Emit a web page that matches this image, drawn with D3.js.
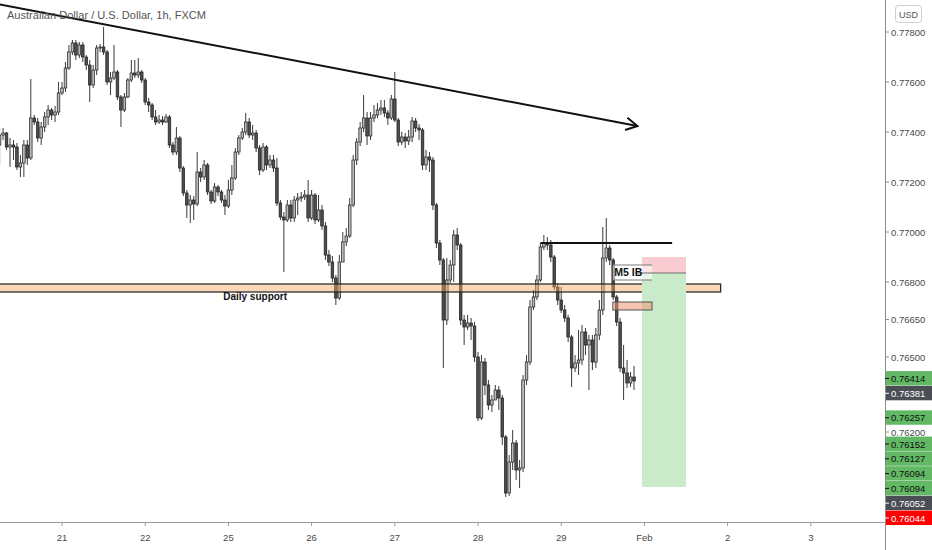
<!DOCTYPE html>
<html><head><meta charset="utf-8">
<script src="https://cdn.jsdelivr.net/npm/d3@7"></script>
<style>html,body{margin:0;padding:0;background:#fff;}svg{display:block;}</style>
</head><body>
<svg id="chart" width="932" height="550"></svg>
<script>
// ---------- DATA ----------
const title = "Australian Dollar / U.S. Dollar, 1h, FXCM";
const dayLabels = ["21","22","25","26","27","28","29","Feb","2","3"];
const dayTickHours = [0,24,48,72,96,120,144,168,192,216];
const firstHour = -18;          // first candle, in hours from the "21" day tick
const firstOpen = 0.77348;
const closes = [
0.77388,0.77396,0.77340,0.77348,0.77340,0.77260,0.77276,0.77348,0.77296,0.77456,
0.77440,0.77376,0.77420,0.77460,0.77488,0.77468,0.77480,0.77556,0.77576,0.77656,
0.77720,0.77756,0.77708,0.77748,0.77700,0.77668,0.77588,0.77648,0.77736,0.77740,
0.77720,0.77600,0.77616,0.77640,0.77540,0.77488,0.77540,0.77608,0.77636,0.77628,
0.77640,0.77608,0.77520,0.77508,0.77460,0.77440,0.77448,0.77440,0.77460,0.77348,
0.77320,0.77376,0.77256,0.77156,0.77108,0.77128,0.77112,0.77240,0.77220,0.77268,
0.77160,0.77124,0.77180,0.77160,0.77128,0.77104,0.77168,0.77216,0.77320,0.77376,
0.77400,0.77440,0.77388,0.77396,0.77336,0.77248,0.77340,0.77268,0.77288,0.77256,
0.77116,0.77060,0.77048,0.77108,0.77056,0.77128,0.77136,0.77140,0.77148,0.77056,
0.77148,0.77048,0.77088,0.77024,0.76908,0.76880,0.76816,0.76736,0.76880,0.76960,
0.76984,0.77108,0.77288,0.77360,0.77416,0.77456,0.77384,0.77456,0.77468,0.77488,
0.77496,0.77476,0.77456,0.77532,0.77448,0.77360,0.77380,0.77364,0.77380,0.77444,
0.77416,0.77408,0.77268,0.77300,0.77288,0.77108,0.76956,0.76888,0.76648,0.76808,
0.76868,0.76988,0.76948,0.76648,0.76620,0.76636,0.76624,0.76500,0.76256,0.76480,
0.76388,0.76308,0.76328,0.76368,0.76336,0.76180,0.75956,0.76080,0.76156,0.76048,
0.76056,0.76408,0.76480,0.76700,0.76740,0.76808,0.76940,0.76956,0.76948,0.76900,
0.76780,0.76728,0.76688,0.76656,0.76580,0.76456,0.76476,0.76488,0.76600,0.76548,
0.76568,0.76480,0.76588,0.76688,0.76896,0.76936,0.76888,0.76740,0.76640,0.76456,
0.76436,0.76396,0.76420,0.76404];
const highs = [
0.77416,0.77416,0.77400,0.77376,0.77368,0.77356,0.77308,0.77368,0.77368,0.77612,
0.77468,0.77456,0.77440,0.77480,0.77508,0.77496,0.77504,0.77600,0.77600,0.77680,
0.77748,0.77768,0.77768,0.77760,0.77760,0.77708,0.77688,0.77668,0.77748,0.77752,
0.77820,0.77728,0.77640,0.77748,0.77648,0.77548,0.77556,0.77616,0.77688,0.77688,
0.77696,0.77648,0.77616,0.77536,0.77516,0.77488,0.77468,0.77464,0.77472,0.77468,
0.77360,0.77420,0.77384,0.77264,0.77168,0.77148,0.77144,0.77320,0.77256,0.77288,
0.77276,0.77168,0.77196,0.77188,0.77168,0.77148,0.77208,0.77268,0.77336,0.77388,
0.77416,0.77476,0.77456,0.77428,0.77408,0.77348,0.77356,0.77348,0.77308,0.77308,
0.77296,0.77128,0.77080,0.77128,0.77128,0.77144,0.77156,0.77160,0.77168,0.77208,
0.77168,0.77156,0.77148,0.77108,0.77040,0.76928,0.76904,0.76828,0.76908,0.77000,
0.77016,0.77136,0.77308,0.77376,0.77440,0.77548,0.77480,0.77480,0.77508,0.77516,
0.77528,0.77528,0.77488,0.77548,0.77640,0.77456,0.77400,0.77396,0.77408,0.77460,
0.77456,0.77432,0.77416,0.77328,0.77320,0.77300,0.77116,0.76968,0.76896,0.76896,
0.76888,0.77008,0.77016,0.76956,0.76668,0.76668,0.76656,0.76640,0.76520,0.76508,
0.76496,0.76408,0.76348,0.76388,0.76384,0.76348,0.76188,0.76108,0.76208,0.76168,
0.76088,0.76428,0.76508,0.76728,0.76768,0.76828,0.76956,0.76988,0.76980,0.76968,
0.76908,0.76796,0.76780,0.76708,0.76668,0.76588,0.76508,0.76608,0.76628,0.76616,
0.76588,0.76588,0.76616,0.76728,0.77020,0.77056,0.76948,0.76896,0.76748,0.76656,
0.76548,0.76488,0.76440,0.76464];
const lows = [
0.77268,0.77368,0.77328,0.77260,0.77288,0.77248,0.77220,0.77220,0.77268,0.77288,
0.77428,0.77360,0.77348,0.77400,0.77428,0.77448,0.77440,0.77468,0.77548,0.77560,
0.77648,0.77708,0.77688,0.77696,0.77680,0.77648,0.77520,0.77576,0.77628,0.77720,
0.77708,0.77588,0.77548,0.77608,0.77528,0.77420,0.77480,0.77536,0.77600,0.77616,
0.77616,0.77596,0.77508,0.77480,0.77448,0.77428,0.77432,0.77428,0.77436,0.77336,
0.77308,0.77308,0.77240,0.77144,0.77056,0.77036,0.77048,0.77104,0.77200,0.77208,
0.77148,0.77112,0.77116,0.77144,0.77116,0.77068,0.77096,0.77148,0.77208,0.77308,
0.77368,0.77388,0.77376,0.77368,0.77320,0.77228,0.77240,0.77248,0.77256,0.77240,
0.77104,0.77048,0.76840,0.77040,0.77040,0.77040,0.77068,0.77120,0.77128,0.77040,
0.77048,0.77032,0.77040,0.77008,0.76888,0.76864,0.76800,0.76708,0.76728,0.76880,
0.76944,0.76976,0.77100,0.77268,0.77344,0.77400,0.77348,0.77368,0.77440,0.77456,
0.77468,0.77460,0.77428,0.77448,0.77440,0.77344,0.77348,0.77336,0.77348,0.77360,
0.77400,0.77368,0.77248,0.77248,0.77240,0.77088,0.76936,0.76868,0.76456,0.76628,
0.76796,0.76800,0.76928,0.76628,0.76548,0.76608,0.76568,0.76480,0.76244,0.76248,
0.76348,0.76288,0.76280,0.76328,0.76288,0.76148,0.75940,0.75944,0.76048,0.76008,
0.75976,0.76040,0.76388,0.76468,0.76688,0.76728,0.76800,0.76928,0.76928,0.76880,
0.76768,0.76708,0.76676,0.76640,0.76560,0.76380,0.76440,0.76428,0.76468,0.76508,
0.76368,0.76448,0.76456,0.76568,0.76668,0.76880,0.76868,0.76728,0.76624,0.76440,
0.76328,0.76376,0.76380,0.76368];

const priceTicks = [0.778,0.776,0.774,0.772,0.770,0.768,0.7665,0.765,0.762];
const tagValues = [0.76414,0.76381,0.76257,0.76152,0.76127,0.76094,0.76094,0.76052,0.76044];
const tagKinds  = ["green","dark","green","green","green","green","green","dark","red"];

// drawings (hour index, price)
const trendLine = [[-18.5,0.77912],[166,0.77424]];
const resistance = {from:138, to:176, price:0.76956};
const dailySupport = {from:-19, to:190, top:0.76792, bottom:0.76760, label:"Daily support", labelAt:46.5};
const m5Box = {from:158.9, to:170.2, top:0.76868, bottom:0.76808, label:"M5 IB"};
const orangeBox = {from:158.9, to:170.2, top:0.76720, bottom:0.76688};
const position = {from:167.3, to:180, stop:0.76900, entry:0.76836, target:0.75980, lineFrom:165.5};

// ---------- CHART ----------
const svg = d3.select("#chart");
const plotR = 885, plotB = 522;
const x = d3.scaleLinear().domain([0,24]).range([62,145.2]);
const y = d3.scaleLinear().domain([0.762,0.778]).range([432,32]);
const fmt = d3.format(".5f");

svg.append("rect").attr("width",932).attr("height",550).attr("fill","#fff");
svg.append("clipPath").attr("id","plot").append("rect").attr("x",0).attr("y",0).attr("width",plotR).attr("height",plotB);
const g = svg.append("g").attr("clip-path","url(#plot)");

const candles = closes.map((c,i)=>{
  const o = i ? closes[i-1] : firstOpen;
  return {t:firstHour+i, o, c, h:Math.max(highs[i],o,c), l:Math.min(lows[i],o,c)};
});

g.selectAll("line.wick").data(candles).join("line").attr("class","wick")
  .attr("x1",d=>x(d.t)).attr("x2",d=>x(d.t))
  .attr("y1",d=>y(d.h)).attr("y2",d=>y(d.l))
  .attr("stroke","#3a3a3a").attr("stroke-width",1);
g.selectAll("rect.body").data(candles).join("rect").attr("class","body")
  .attr("x",d=>x(d.t)-1.3).attr("width",2.6)
  .attr("y",d=>y(Math.max(d.o,d.c)))
  .attr("height",d=>Math.max(0.8,Math.abs(y(d.o)-y(d.c))))
  .attr("fill",d=>d.c>=d.o?"#b9b9b9":"#4e4e4e")
  .attr("stroke","#1c1c1c").attr("stroke-width",0.7);

// daily support band
g.append("rect")
  .attr("x",x(dailySupport.from)).attr("width",x(dailySupport.to)-x(dailySupport.from))
  .attr("y",y(dailySupport.top)).attr("height",y(dailySupport.bottom)-y(dailySupport.top))
  .attr("fill","#f5a95f").attr("fill-opacity",0.45)
  .attr("stroke","#1e1e1e").attr("stroke-width",1.2);
g.append("text").attr("x",x(dailySupport.labelAt)).attr("y",y(dailySupport.bottom)+8)
  .attr("font-family","Liberation Sans, Arial, sans-serif").attr("font-size",10).attr("font-weight","bold")
  .attr("fill","#111").text(dailySupport.label);

// position tool
g.append("rect").attr("x",x(position.from)).attr("width",x(position.to)-x(position.from))
  .attr("y",y(position.stop)).attr("height",y(position.entry)-y(position.stop))
  .attr("fill","#f8ccd0");
g.append("rect").attr("x",x(position.from)).attr("width",x(position.to)-x(position.from))
  .attr("y",y(position.entry)).attr("height",y(position.target)-y(position.entry))
  .attr("fill","#caebca");

// M5 IB box
g.append("rect").attr("x",x(m5Box.from)).attr("width",x(m5Box.to)-x(m5Box.from))
  .attr("y",y(m5Box.top)).attr("height",y(m5Box.bottom)-y(m5Box.top))
  .attr("fill","#ffffff").attr("fill-opacity",0.55);
[m5Box.top,m5Box.bottom].forEach(p=>{
  g.append("line").attr("x1",x(m5Box.from)).attr("x2",x(m5Box.to)).attr("y1",y(p)).attr("y2",y(p))
   .attr("stroke","#7a7a7a").attr("stroke-width",1);
});
g.append("line").attr("x1",x(position.lineFrom)).attr("x2",x(position.to))
  .attr("y1",y(position.entry)).attr("y2",y(position.entry)).attr("stroke","#6e6e6e").attr("stroke-width",1);
g.append("text").attr("x",x(m5Box.from)+1.5).attr("y",(y(m5Box.top)+y(m5Box.bottom))/2+3.8)
  .attr("font-family","Liberation Sans, Arial, sans-serif").attr("font-size",10.5).attr("font-weight","bold")
  .attr("fill","#111").text(m5Box.label);

// orange box
g.append("rect").attr("x",x(orangeBox.from)).attr("width",x(orangeBox.to)-x(orangeBox.from))
  .attr("y",y(orangeBox.top)).attr("height",y(orangeBox.bottom)-y(orangeBox.top))
  .attr("fill","#ec9474").attr("fill-opacity",0.55).attr("stroke","#555").attr("stroke-width",1);

// resistance line
g.append("line").attr("x1",x(resistance.from)).attr("x2",x(resistance.to))
  .attr("y1",y(resistance.price)).attr("y2",y(resistance.price))
  .attr("stroke","#111").attr("stroke-width",2);

// trend line with arrow
const [p0,p1] = trendLine.map(([t,p])=>[x(t),y(p)]);
g.append("line").attr("x1",p0[0]).attr("y1",p0[1]).attr("x2",p1[0]).attr("y2",p1[1])
  .attr("stroke","#111").attr("stroke-width",2);
const ang = Math.atan2(p1[1]-p0[1], p1[0]-p0[0]);
const arm = 13, spread = 0.5;
g.append("path")
  .attr("d",`M${p1[0]-arm*Math.cos(ang-spread)},${p1[1]-arm*Math.sin(ang-spread)}L${p1[0]},${p1[1]}L${p1[0]-arm*Math.cos(ang+spread)},${p1[1]-arm*Math.sin(ang+spread)}`)
  .attr("fill","none").attr("stroke","#111").attr("stroke-width",2);

// title
svg.append("text").attr("x",7).attr("y",19).attr("font-family","Liberation Sans, Arial, sans-serif")
  .attr("font-size",11.5).attr("fill","#555").attr("textLength",199).attr("lengthAdjust","spacingAndGlyphs")
  .text(title);

// axes lines
svg.append("line").attr("x1",plotR+0.5).attr("x2",plotR+0.5).attr("y1",0).attr("y2",550).attr("stroke","#8c8c8c");
svg.append("line").attr("x1",0).attr("x2",plotR).attr("y1",plotB+0.5).attr("y2",plotB+0.5).attr("stroke","#9a9a9a").attr("stroke-width",1.2);

// bottom axis
const xa = svg.append("g");
dayTickHours.forEach((h,i)=>{
  xa.append("line").attr("x1",x(h)).attr("x2",x(h)).attr("y1",plotB).attr("y2",plotB+4).attr("stroke","#9a9a9a");
  xa.append("text").attr("x",x(h)).attr("y",537).attr("text-anchor","middle").attr("dominant-baseline","central")
    .attr("font-family","Liberation Sans, Arial, sans-serif").attr("font-size",9.5).attr("fill","#4a4a4a").text(dayLabels[i]);
});

// right axis ticks
const ya = svg.append("g");
priceTicks.forEach(v=>{
  ya.append("line").attr("x1",plotR).attr("x2",plotR+4).attr("y1",y(v)).attr("y2",y(v)).attr("stroke","#8c8c8c");
  ya.append("text").attr("x",891).attr("y",y(v)).attr("dominant-baseline","central")
    .attr("font-family","Liberation Sans, Arial, sans-serif").attr("font-size",9.5).attr("fill","#4a4a4a").text(fmt(v));
});

// price tags (stacked to avoid overlap)
const tagH = 14.8;
let lastY = -Infinity;
const tags = tagValues.map((v,i)=>{
  let yy = Math.max(y(v), lastY + tagH);
  lastY = yy;
  return {v, kind:tagKinds[i], yy};
});
const tagFill = {green:"#62b865", dark:"#4b4e55", red:"#ff0000"};
const tagText = {green:"#101010", dark:"#ffffff", red:"#ffffff"};
tags.forEach(d=>{
  ya.append("rect").attr("x",plotR+1).attr("width",932-plotR-1).attr("y",d.yy-tagH/2).attr("height",tagH-0.4).attr("fill",tagFill[d.kind]);
  ya.append("line").attr("x1",plotR).attr("x2",plotR+4).attr("y1",d.yy).attr("y2",d.yy).attr("stroke",tagText[d.kind]);
  ya.append("text").attr("x",891).attr("y",d.yy).attr("dominant-baseline","central")
    .attr("font-family","Liberation Sans, Arial, sans-serif").attr("font-size",9.5).attr("fill",tagText[d.kind]).text(fmt(d.v));
});

// USD button
svg.append("rect").attr("x",895.5).attr("y",5.5).attr("width",26).attr("height",17).attr("rx",3)
  .attr("fill","#fff").attr("stroke","#cfcfcf");
svg.append("text").attr("x",908.5).attr("y",14.5).attr("text-anchor","middle").attr("dominant-baseline","central")
  .attr("font-family","Liberation Sans, Arial, sans-serif").attr("font-size",9).attr("fill","#555").text("USD");
</script>
</body></html>
